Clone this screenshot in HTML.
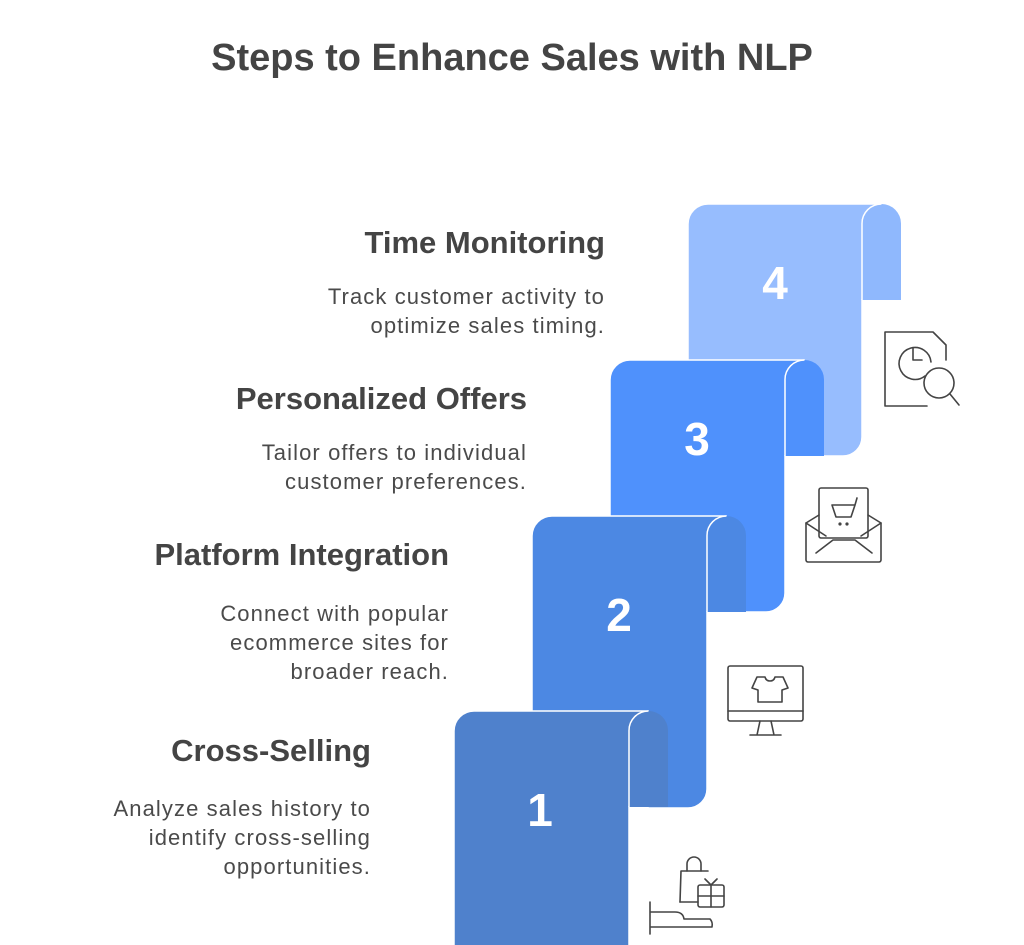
<!DOCTYPE html>
<html><head><meta charset="utf-8"><style>
html,body{margin:0;padding:0;background:#fff;width:1024px;height:945px;overflow:hidden}
svg{display:block;font-family:"Liberation Sans",sans-serif}
.t{font-weight:bold;font-size:31px;fill:#444;text-anchor:end}
.d{font-size:22px;fill:#4a4a4a;text-anchor:end;letter-spacing:1.1px}
.n{font-weight:bold;font-size:46px;fill:#fff;text-anchor:middle}
.ic{fill:none;stroke:#444;stroke-width:1.6;stroke-linecap:round;stroke-linejoin:round}
</style></head><body>
<svg width="1024" height="945" viewBox="0 0 1024 945">
<text x="512" y="70" text-anchor="middle" font-weight="bold" font-size="38" fill="#444">Steps to Enhance Sales with NLP</text>

<path d="M688,456 L688,224 A20,20 0 0 1 708,204 L882,204 L882,300 L862,300 L862,437 A19,19 0 0 1 843,456 Z" fill="#97BDFE" stroke="#fff" stroke-width="1.5"/>
<path d="M862,300 L862,223.5 A19.5,19.5 0 0 1 901,223.5 L901,300 Z" fill="#8FB8FD"/>
<path d="M862,300 L862,223.5 A19.5,19.5 0 0 1 881.5,204" fill="none" stroke="#fff" stroke-width="1.5"/>
<text class="n" x="775" y="299">4</text>

<path d="M610,612 L610,380 A20,20 0 0 1 630,360 L804,360 L804,456 L785,456 L785,593 A19,19 0 0 1 766,612 Z" fill="#4F91FC" stroke="#fff" stroke-width="1.5"/>
<path d="M785,456 L785,379.5 A19.5,19.5 0 0 1 824,379.5 L824,456 Z" fill="#4F91FC"/>
<path d="M785,456 L785,379.5 A19.5,19.5 0 0 1 804.5,360" fill="none" stroke="#fff" stroke-width="1.5"/>
<text class="n" x="697" y="455">3</text>

<path d="M532,808 L532,536 A20,20 0 0 1 552,516 L726,516 L726,612 L707,612 L707,789 A19,19 0 0 1 688,808 Z" fill="#4C88E3" stroke="#fff" stroke-width="1.5"/>
<path d="M707,612 L707,535.5 A19.5,19.5 0 0 1 746,535.5 L746,612 Z" fill="#4C88E3"/>
<path d="M707,612 L707,535.5 A19.5,19.5 0 0 1 726.5,516" fill="none" stroke="#fff" stroke-width="1.5"/>
<text class="n" x="619" y="631">2</text>

<path d="M454,950 L454,731 A20,20 0 0 1 474,711 L648,711 L648,807 L629,807 L629,950 Z" fill="#4F81CC" stroke="#fff" stroke-width="1.5"/>
<path d="M629,807 L629,730.5 A19.5,19.5 0 0 1 668,730.5 L668,807 Z" fill="#4F81CC"/>
<path d="M629,807 L629,730.5 A19.5,19.5 0 0 1 648.5,711" fill="none" stroke="#fff" stroke-width="1.5"/>
<text class="n" x="540" y="826">1</text>

<text class="t" x="605" y="253">Time Monitoring</text>
<text class="d" x="605" y="304">Track customer activity to</text>
<text class="d" x="605" y="333">optimize sales timing.</text>

<text class="t" x="527" y="409">Personalized Offers</text>
<text class="d" x="527" y="460">Tailor offers to individual</text>
<text class="d" x="527" y="489">customer preferences.</text>

<text class="t" x="449" y="565">Platform Integration</text>
<text class="d" x="449" y="621">Connect with popular</text>
<text class="d" x="449" y="650">ecommerce sites for</text>
<text class="d" x="449" y="679">broader reach.</text>

<text class="t" x="371" y="761">Cross-Selling</text>
<text class="d" x="371" y="816">Analyze sales history to</text>
<text class="d" x="371" y="845">identify cross-selling</text>
<text class="d" x="371" y="874">opportunities.</text>

<g class="ic">
<path d="M927,406 L885,406 L885,332 L933,332 L946,345 L946,360"/>
<path d="M925,376 A16,16 0 1 1 931,362"/>
<path d="M913,348 L913,360 L922,360"/>
<circle cx="939" cy="383" r="15"/>
<path d="M950,394 L959,405"/>
</g>
<g class="ic">
<rect x="819" y="488" width="49" height="50" rx="2"/>
<path d="M806,523 L806,560 A2,2 0 0 0 808,562 L879,562 A2,2 0 0 0 881,560 L881,523 L868,515 M806,523 L819,515"/>
<path d="M806,523 L826,536 M881,523 L861,536 M816,553 L833,540 L855,540 L872,553"/>
<path d="M832,505 L855,505 L851,517 L836,517 Z M855,505 L857,498"/>
<circle cx="840" cy="524" r="0.8"/><circle cx="847" cy="524" r="0.8"/>
</g>
<g class="ic">
<rect x="728" y="666" width="75" height="55" rx="2"/>
<path d="M728,711 L803,711 M760,721 L757,735 M771,721 L774,735 M750,735 L781,735"/>
<path d="M757,677 L765,677 Q766,681 770,681 Q774,681 775,677 L783,677 L788,688 L782,690 L782,702 L758,702 L758,690 L752,688 Z"/>
</g>
<g class="ic">
<path d="M650,902 L650,934 M650,912 L675,912 Q683,912 684,919 L710,919 Q713,922 712,927 L650,927"/>
<path d="M680,902 L681,871 L708,871"/>
<path d="M687,871 L687,864 A7,7 0 0 1 701,864 L701,871"/>
<path d="M680,902 L698,902"/>
<rect x="698" y="885" width="26" height="22" rx="2"/>
<path d="M711,885 L711,907 M698,896 L724,896 M711,885 L705,879 M711,885 L717,879"/>
</g>
</svg>
</body></html>
